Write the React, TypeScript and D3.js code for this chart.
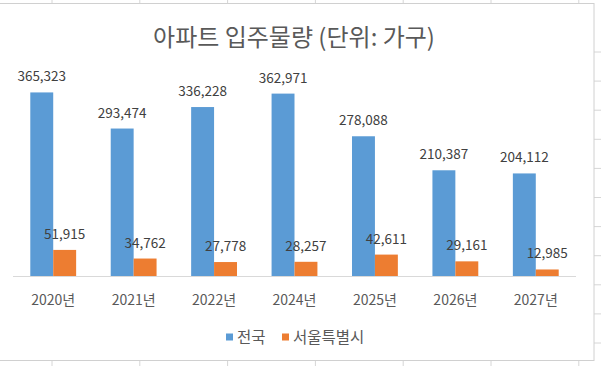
import React from "react";
import * as d3 from "d3";

const categories = ["2020년", "2021년", "2022년", "2024년", "2025년", "2026년", "2027년"];
const seriesNames = ["전국", "서울특별시"];
const nationwide = [365323, 293474, 336228, 362971, 278088, 210387, 204112];
const seoul = [51915, 34762, 27778, 28257, 42611, 29161, 12985];
const colors = ["#5B9BD5", "#ED7D31"];

const W = 601;
const H = 366;
const font = "'Noto Sans CJK KR', 'Noto Sans', sans-serif";

const App = () => {
  const x = d3.scaleBand().domain(categories).range([13, 576]).paddingInner(0.43).paddingOuter(0.215);
  const inner = d3.scaleBand().domain(seriesNames).range([0, x.bandwidth()]);
  const y = d3.scaleLinear().domain([0, 400000]).range([276, 75]);
  const fmt = d3.format(",");
  const series = [nationwide, seoul];

  // spreadsheet cell grid behind the chart
  const gridX = d3.range(52, W, 87.8);
  const gridY = d3.range(52, H, 29.1);

  return (
    <svg width={W} height={H} style={{ position: "fixed", left: 0, top: 0, background: "#fff" }}>
      {gridX.map((gx, i) => (
        <line key={"gx" + i} x1={gx} x2={gx} y1={0} y2={H} stroke="#d6d6d6" />
      ))}
      {gridY.map((gy, i) => (
        <line key={"gy" + i} x1={0} x2={W} y1={gy} y2={gy} stroke="#d6d6d6" />
      ))}
      <rect x={-1} y={3.5} width={595} height={357} fill="#fff" stroke="#d0d0d0" />

      <text x={294} y={46} textAnchor="middle" fontFamily={font} fontSize={24} fill="#595959">
        아파트 입주물량 (단위: 가구)
      </text>

      <line x1={13} x2={576} y1={276.5} y2={276.5} stroke="#d9d9d9" />

      {series.map((vals, s) => (
        <g key={s}>
          {vals.map((v, i) => {
            const bx = (x(categories[i]) as number) + (inner(seriesNames[s]) as number);
            return (
              <g key={i}>
                <rect x={bx} y={y(v)} width={inner.bandwidth()} height={276 - y(v)} fill={colors[s]} />
                <text
                  x={bx + inner.bandwidth() / 2}
                  y={y(v) - 11}
                  textAnchor="middle"
                  fontFamily={font}
                  fontSize={13.5}
                  fill="#404040"
                >
                  {fmt(v)}
                </text>
              </g>
            );
          })}
        </g>
      ))}

      {categories.map((c) => (
        <text
          key={c}
          x={(x(c) as number) + x.bandwidth() / 2}
          y={305}
          textAnchor="middle"
          fontFamily={font}
          fontSize={14}
          fill="#595959"
        >
          {c}
        </text>
      ))}

      {seriesNames.map((n, i) => {
        const lx = i === 0 ? 226 : 282;
        return (
          <g key={n}>
            <rect x={lx} y={333.5} width={7} height={7} fill={colors[i]} />
            <text x={lx + 11} y={343} fontFamily={font} fontSize={15.5} fill="#595959">
              {n}
            </text>
          </g>
        );
      })}
    </svg>
  );
};

export default App;
